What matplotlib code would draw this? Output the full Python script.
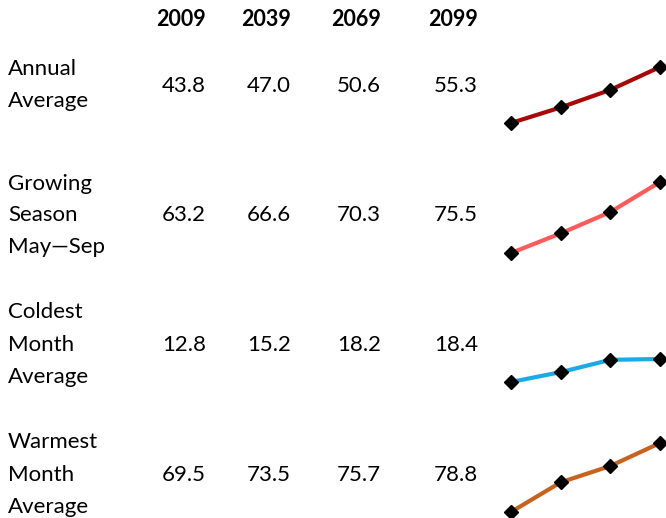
import matplotlib.pyplot as plt

plt.rcParams['font.family'] = ['Lato', 'DejaVu Sans']

years = ['2009', '2039', '2069', '2099']
row_labels = ['Annual\nAverage', 'Growing\nSeason\nMay\u2014Sep',
              'Coldest\nMonth\nAverage', 'Warmest\nMonth\nAverage']
annual = [43.8, 47.0, 50.6, 55.3]
growing = [63.2, 66.6, 70.3, 75.5]
coldest = [12.8, 15.2, 18.2, 18.4]
warmest = [69.5, 73.5, 75.7, 78.8]
series = [annual, growing, coldest, warmest]
colors = ['#A80808', '#FF5A5A', '#1AAAE6', '#C8621C']

W, H = 666, 518
fig = plt.figure(figsize=(W / 100, H / 100), dpi=100)

# column right edges (px) and row centre lines (px)
col_x = [206, 291, 381, 478]
row_y = [86, 215, 345, 475]
label_lines = [[69, 101], [184, 215, 247], [312, 345, 377], [442, 475, 507]]
# sparkline vertical extents (px, top/bottom)
spark_y = [(67, 123), (182, 253), (359, 382), (443, 512)]
spark_x = (511, 660)

for x, yr in zip(col_x, years):
    fig.text(x / W, 1 - 19 / H, yr, ha='right', va='center',
             fontsize=15.5, fontweight='bold')

for i, vals in enumerate(series):
    for line, ly in zip(row_labels[i].split('\n'), label_lines[i]):
        fig.text(8 / W, 1 - ly / H, line, ha='left', va='center', fontsize=16)
    for x, v in zip(col_x, vals):
        fig.text(x / W, 1 - row_y[i] / H, f'{v:.1f}', ha='right', va='center',
                 fontsize=16)

    top, bot = spark_y[i]
    ax = fig.add_axes([spark_x[0] / W, 1 - bot / H,
                       (spark_x[1] - spark_x[0]) / W, (bot - top) / H])
    ax.plot(range(len(vals)), vals, color=colors[i], lw=3,
            marker='D', ms=7.5, mfc='black', mec='black', clip_on=False)
    ax.set_xlim(0, len(vals) - 1)
    ax.set_ylim(min(vals), max(vals))
    ax.axis('off')

fig.savefig('out.png', dpi=100)
